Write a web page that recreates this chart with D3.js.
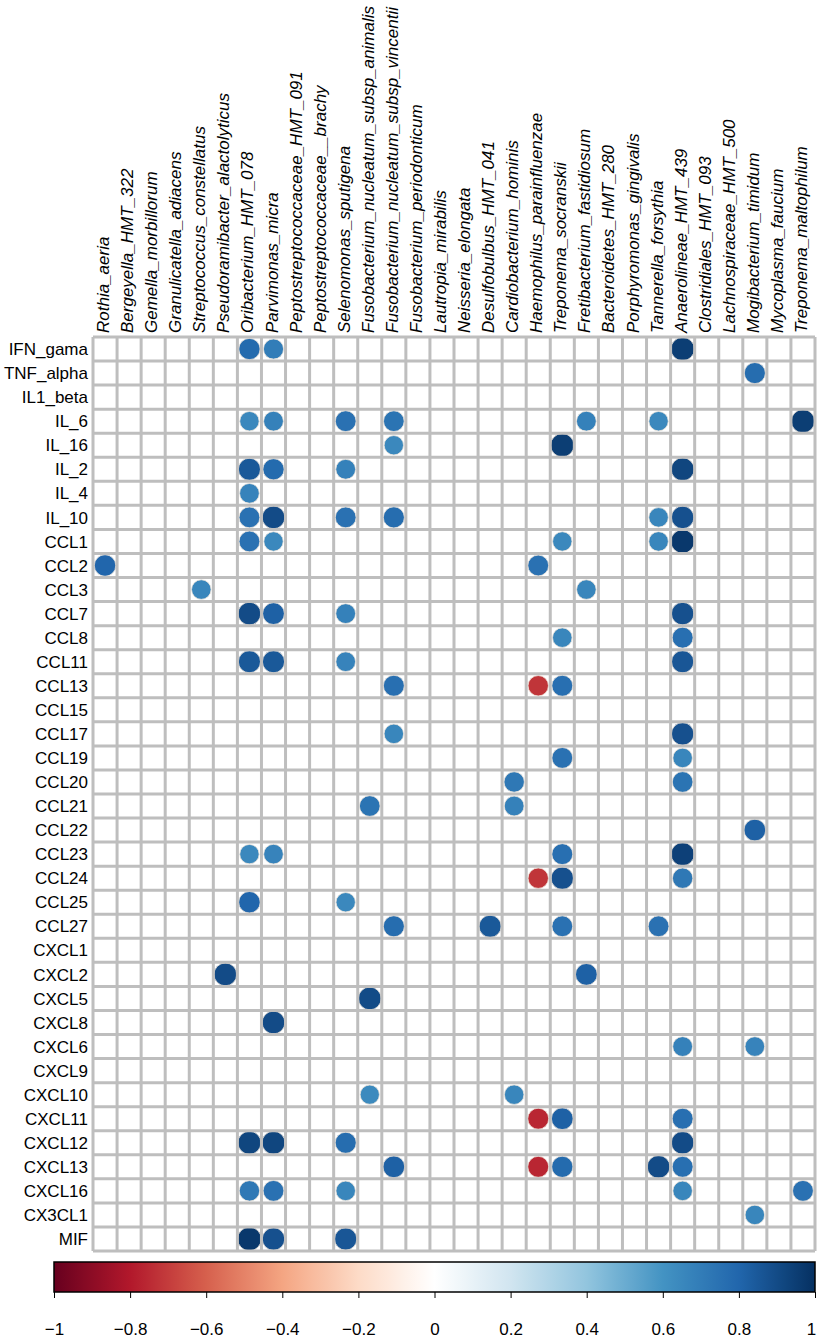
<!DOCTYPE html>
<html>
<head>
<meta charset="utf-8">
<script src="https://cdn.jsdelivr.net/npm/d3@7"></script>
<style>
  body { margin: 0; background: #fff; }
  text { font-family: "Liberation Sans", Arial, Helvetica, sans-serif; }
</style>
</head>
<body>
<div id="chart"></div>
<script>
// rows (cytokines) and columns (bacteria)
const cytokines = ["IFN_gama", "TNF_alpha", "IL1_beta", "IL_6", "IL_16", "IL_2", "IL_4", "IL_10",
    "CCL1", "CCL2", "CCL3", "CCL7", "CCL8", "CCL11", "CCL13", "CCL15", "CCL17", "CCL19", "CCL20",
    "CCL21", "CCL22", "CCL23", "CCL24", "CCL25", "CCL27", "CXCL1", "CXCL2", "CXCL5", "CXCL8",
    "CXCL6", "CXCL9", "CXCL10", "CXCL11", "CXCL12", "CXCL13", "CXCL16", "CX3CL1", "MIF"];

const bacteria = ["Rothia_aeria", "Bergeyella_HMT_322", "Gemella_morbillorum", "Granulicatella_adiacens",
    "Streptococcus_constellatus", "Pseudoramibacter_alactolyticus", "Oribacterium_HMT_078", "Parvimonas_micra",
    "Peptostreptococcaceae_HMT_091", "Peptostreptococcaceae__brachy", "Selenomonas_sputigena",
    "Fusobacterium_nucleatum_subsp_animalis", "Fusobacterium_nucleatum_subsp_vincentii",
    "Fusobacterium_periodonticum", "Lautropia_mirabilis", "Neisseria_elongata", "Desulfobulbus_HMT_041",
    "Cardiobacterium_hominis", "Haemophilus_parainfluenzae", "Treponema_socranskii",
    "Fretibacterium_fastidiosum", "Bacteroidetes_HMT_280", "Porphyromonas_gingivalis", "Tannerella_forsythia",
    "Anaerolineae_HMT_439", "Clostridiales_HMT_093", "Lachnospiraceae_HMT_500", "Mogibacterium_timidum",
    "Mycoplasma_faucium", "Treponema_maltophilum"];

// significant correlations only: [cytokine, bacterium, r]
const correlations = [
    ["IFN_gama", "Oribacterium_HMT_078", 0.78], ["IFN_gama", "Parvimonas_micra", 0.7], ["IFN_gama", "Anaerolineae_HMT_439", 0.95],
    ["TNF_alpha", "Mogibacterium_timidum", 0.77],
    ["IL_6", "Oribacterium_HMT_078", 0.65], ["IL_6", "Parvimonas_micra", 0.68], ["IL_6", "Selenomonas_sputigena", 0.75],
    ["IL_6", "Fusobacterium_nucleatum_subsp_vincentii", 0.74], ["IL_6", "Fretibacterium_fastidiosum", 0.68],
    ["IL_6", "Tannerella_forsythia", 0.65], ["IL_6", "Treponema_maltophilum", 0.95],
    ["IL_16", "Fusobacterium_nucleatum_subsp_vincentii", 0.65], ["IL_16", "Treponema_socranskii", 0.95],
    ["IL_2", "Oribacterium_HMT_078", 0.85], ["IL_2", "Parvimonas_micra", 0.78], ["IL_2", "Selenomonas_sputigena", 0.68],
    ["IL_2", "Anaerolineae_HMT_439", 0.92],
    ["IL_4", "Oribacterium_HMT_078", 0.67],
    ["IL_10", "Oribacterium_HMT_078", 0.75], ["IL_10", "Parvimonas_micra", 0.9], ["IL_10", "Selenomonas_sputigena", 0.75],
    ["IL_10", "Fusobacterium_nucleatum_subsp_vincentii", 0.77], ["IL_10", "Tannerella_forsythia", 0.66],
    ["IL_10", "Anaerolineae_HMT_439", 0.88],
    ["CCL1", "Oribacterium_HMT_078", 0.75], ["CCL1", "Parvimonas_micra", 0.65], ["CCL1", "Treponema_socranskii", 0.65],
    ["CCL1", "Tannerella_forsythia", 0.66], ["CCL1", "Anaerolineae_HMT_439", 0.97],
    ["CCL2", "Rothia_aeria", 0.8], ["CCL2", "Haemophilus_parainfluenzae", 0.75],
    ["CCL3", "Streptococcus_constellatus", 0.66], ["CCL3", "Fretibacterium_fastidiosum", 0.66],
    ["CCL7", "Oribacterium_HMT_078", 0.9], ["CCL7", "Parvimonas_micra", 0.82], ["CCL7", "Selenomonas_sputigena", 0.68],
    ["CCL7", "Anaerolineae_HMT_439", 0.88],
    ["CCL8", "Treponema_socranskii", 0.66], ["CCL8", "Anaerolineae_HMT_439", 0.76],
    ["CCL11", "Oribacterium_HMT_078", 0.85], ["CCL11", "Parvimonas_micra", 0.85], ["CCL11", "Selenomonas_sputigena", 0.67],
    ["CCL11", "Anaerolineae_HMT_439", 0.86],
    ["CCL13", "Fusobacterium_nucleatum_subsp_vincentii", 0.76], ["CCL13", "Haemophilus_parainfluenzae", -0.72],
    ["CCL13", "Treponema_socranskii", 0.76],
    ["CCL17", "Fusobacterium_nucleatum_subsp_vincentii", 0.66], ["CCL17", "Anaerolineae_HMT_439", 0.88],
    ["CCL19", "Treponema_socranskii", 0.75], ["CCL19", "Anaerolineae_HMT_439", 0.66],
    ["CCL20", "Cardiobacterium_hominis", 0.72], ["CCL20", "Anaerolineae_HMT_439", 0.74],
    ["CCL21", "Fusobacterium_nucleatum_subsp_animalis", 0.74], ["CCL21", "Cardiobacterium_hominis", 0.68],
    ["CCL22", "Mogibacterium_timidum", 0.82],
    ["CCL23", "Oribacterium_HMT_078", 0.65], ["CCL23", "Parvimonas_micra", 0.67], ["CCL23", "Treponema_socranskii", 0.76],
    ["CCL23", "Anaerolineae_HMT_439", 0.94],
    ["CCL24", "Haemophilus_parainfluenzae", -0.72], ["CCL24", "Treponema_socranskii", 0.88], ["CCL24", "Anaerolineae_HMT_439", 0.72],
    ["CCL25", "Oribacterium_HMT_078", 0.8], ["CCL25", "Selenomonas_sputigena", 0.65],
    ["CCL27", "Fusobacterium_nucleatum_subsp_vincentii", 0.77], ["CCL27", "Desulfobulbus_HMT_041", 0.85],
    ["CCL27", "Treponema_socranskii", 0.75], ["CCL27", "Tannerella_forsythia", 0.75],
    ["CXCL2", "Pseudoramibacter_alactolyticus", 0.9], ["CXCL2", "Fretibacterium_fastidiosum", 0.82],
    ["CXCL5", "Fusobacterium_nucleatum_subsp_animalis", 0.9],
    ["CXCL8", "Parvimonas_micra", 0.9],
    ["CXCL6", "Anaerolineae_HMT_439", 0.68], ["CXCL6", "Mogibacterium_timidum", 0.67],
    ["CXCL10", "Fusobacterium_nucleatum_subsp_animalis", 0.64], ["CXCL10", "Cardiobacterium_hominis", 0.66],
    ["CXCL11", "Haemophilus_parainfluenzae", -0.76], ["CXCL11", "Treponema_socranskii", 0.82], ["CXCL11", "Anaerolineae_HMT_439", 0.76],
    ["CXCL12", "Oribacterium_HMT_078", 0.92], ["CXCL12", "Parvimonas_micra", 0.92], ["CXCL12", "Selenomonas_sputigena", 0.77],
    ["CXCL12", "Anaerolineae_HMT_439", 0.9],
    ["CXCL13", "Fusobacterium_nucleatum_subsp_vincentii", 0.82], ["CXCL13", "Haemophilus_parainfluenzae", -0.76],
    ["CXCL13", "Treponema_socranskii", 0.78], ["CXCL13", "Tannerella_forsythia", 0.9], ["CXCL13", "Anaerolineae_HMT_439", 0.76],
    ["CXCL16", "Oribacterium_HMT_078", 0.72], ["CXCL16", "Parvimonas_micra", 0.75], ["CXCL16", "Selenomonas_sputigena", 0.66],
    ["CXCL16", "Anaerolineae_HMT_439", 0.66], ["CXCL16", "Treponema_maltophilum", 0.75],
    ["CX3CL1", "Mogibacterium_timidum", 0.66],
    ["MIF", "Oribacterium_HMT_078", 0.97], ["MIF", "Parvimonas_micra", 0.88], ["MIF", "Selenomonas_sputigena", 0.86]
];

// colour legend
const legendTicks = [-1, -0.8, -0.6, -0.4, -0.2, 0, 0.2, 0.4, 0.6, 0.8, 1];
const palette = ["#67001F", "#B2182B", "#D6604D", "#F4A582", "#FDDBC7", "#FFFFFF",
    "#D1E5F0", "#92C5DE", "#4393C3", "#2166AC", "#053061"];

/***************************************************************************/
const width = 817;
const height = 1339;

const svg = d3.select("#chart").append("svg")
    .attr("width", width)
    .attr("height", height);

const x = d3.scaleBand().domain(bacteria).range([93, 815]);
const y = d3.scaleBand().domain(cytokines).range([337, 1251]);
const cell = x.bandwidth();

const color = d3.scaleLinear()
    .domain(legendTicks)
    .range(palette);

// circle area follows |r|; strong ones get clipped by the grid into rounded squares
const radius = r => 0.5 * Math.sqrt(Math.abs(r)) * cell;

/********************** circles ****************************************/
svg.append("g")
    .selectAll("circle")
    .data(correlations)
    .join("circle")
    .attr("cx", d => x(d[1]) + cell / 2)
    .attr("cy", d => y(d[0]) + y.bandwidth() / 2)
    .attr("r", d => radius(d[2]))
    .attr("fill", d => color(d[2]))
    .attr("stroke", "#efe6dc")
    .attr("stroke-width", 0.8);

/********************** grid on top **************************************/
const xEdges = bacteria.map(b => x(b)).concat([x.range()[1]]);
const yEdges = cytokines.map(c => y(c)).concat([y.range()[1]]);

const grid = svg.append("g")
    .attr("stroke", "#BEBEBE")
    .attr("stroke-width", 3);

grid.selectAll(".vline")
    .data(xEdges)
    .join("line")
    .attr("class", "vline")
    .attr("x1", d => d).attr("x2", d => d)
    .attr("y1", y.range()[0]).attr("y2", y.range()[1]);

grid.selectAll(".hline")
    .data(yEdges)
    .join("line")
    .attr("class", "hline")
    .attr("x1", x.range()[0]).attr("x2", x.range()[1])
    .attr("y1", d => d).attr("y2", d => d);

/********************** labels *******************************************/
svg.append("g")
    .selectAll("text")
    .data(cytokines)
    .join("text")
    .attr("x", 88)
    .attr("y", d => y(d) + y.bandwidth() / 2)
    .attr("dy", "0.36em")
    .attr("text-anchor", "end")
    .attr("font-size", 17)
    .text(d => d);

svg.append("g")
    .selectAll("text")
    .data(bacteria)
    .join("text")
    .attr("transform", d => `translate(${x(d) + cell / 2 + 4},333) rotate(-90)`)
    .attr("text-anchor", "start")
    .attr("font-size", 17)
    .attr("font-style", "italic")
    .text(d => d);

/********************** colour bar ***************************************/
const legendX = d3.scaleLinear().domain([-1, 1]).range([54, 815]);
const barTop = 1262, barH = 30;

const grad = svg.append("defs").append("linearGradient")
    .attr("id", "rdbu")
    .attr("x1", "0%").attr("x2", "100%");
grad.selectAll("stop")
    .data(d3.range(0, 1.0001, 0.02))
    .join("stop")
    .attr("offset", d => (d * 100) + "%")
    .attr("stop-color", d => color(-1 + 2 * d));

svg.append("rect")
    .attr("x", legendX(-1))
    .attr("y", barTop)
    .attr("width", legendX(1) - legendX(-1))
    .attr("height", barH)
    .attr("fill", "url(#rdbu)")
    .attr("stroke", "#000")
    .attr("stroke-width", 1.5);

const axis = svg.append("g")
    .attr("transform", `translate(0,${barTop + barH})`)
    .call(d3.axisBottom(legendX)
        .tickValues(legendTicks)
        .tickSize(6)
        .tickPadding(25)
        .tickFormat(d => d3.format("")(d).replace("-", "\u2212")));

axis.select(".domain").remove();
axis.selectAll("text")
    .attr("font-size", 17)
    .attr("font-family", "Liberation Sans, Arial, sans-serif")
    .attr("fill", "#000");
// keep the last label inside the page
axis.selectAll(".tick").filter(d => d === 1).select("text").attr("dx", -4);
</script>
</body>
</html>
